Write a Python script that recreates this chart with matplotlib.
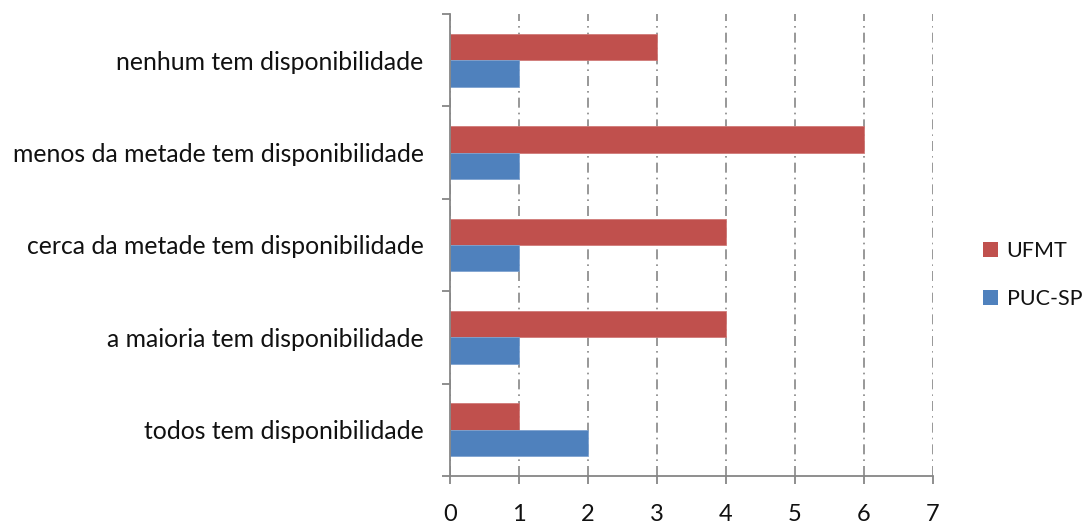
import matplotlib
matplotlib.use("Agg")
import matplotlib.pyplot as plt
import numpy as np
from matplotlib.patches import Patch

plt.rcParams['font.family'] = ['Lato', 'DejaVu Sans']

categories = [
    "todos tem disponibilidade",
    "a maioria tem disponibilidade",
    "cerca da metade tem disponibilidade",
    "menos da metade tem disponibilidade",
    "nenhum tem disponibilidade",
]
ufmt = [1, 4, 4, 6, 3]
puc_sp = [2, 1, 1, 1, 1]
x_ticks = [0, 1, 2, 3, 4, 5, 6, 7]

red = "#C0504D"
blue = "#4F81BD"
axis_grey = "#868686"

fig = plt.figure(figsize=(10.84, 5.26), dpi=100)
ax = fig.add_axes([450 / 1084, 50 / 526, 483 / 1084, 462 / 526])

y = np.arange(len(categories))
h = 1 / 3.5
ax.barh(y + h / 2, ufmt, height=h, color=red, edgecolor="#D07A78", linewidth=0.6, label="UFMT", zorder=3)
ax.barh(y - h / 2, puc_sp, height=h, color=blue, edgecolor="#7FA3D0", linewidth=0.6, label="PUC-SP", zorder=3)

ax.set_xlim(0, 7)
ax.set_ylim(-0.5, len(categories) - 0.5)
ax.set_xticks(x_ticks)
ax.set_xticklabels([str(v) for v in x_ticks], fontsize=17)
ax.set_yticks(y)
ax.set_yticklabels(categories, fontsize=17.8)
ax.set_yticks(np.arange(-0.5, len(categories)), minor=True)

ax.tick_params(axis="y", which="major", length=0, pad=19, labelcolor="#111111")
ax.tick_params(axis="y", which="minor", length=6, width=1.3, color=axis_grey, direction="out")
ax.tick_params(axis="x", which="major", length=6, width=1.3, color=axis_grey, direction="out", pad=14,
               labelcolor="#111111")

ax.grid(axis="x", color=axis_grey, linestyle=(0, (6, 3, 1, 3)), linewidth=1.2, zorder=0)
ax.set_axisbelow(True)

for side in ("top", "right"):
    ax.spines[side].set_visible(False)
for side in ("left", "bottom"):
    ax.spines[side].set_color(axis_grey)
    ax.spines[side].set_linewidth(1.3)
    ax.spines[side].set_zorder(4)

handles = [Patch(facecolor=red, label="UFMT"), Patch(facecolor=blue, label="PUC-SP")]
leg = fig.legend(handles=handles, loc="center left", bbox_to_anchor=(983 / 1084, 251 / 526),
                 frameon=False, fontsize=15.5, handlelength=0.7, handleheight=0.7,
                 handletextpad=0.4, labelspacing=1.3, borderpad=0, borderaxespad=0)
for t in leg.get_texts():
    t.set_color("#111111")

fig.savefig("out.png", dpi=100)
